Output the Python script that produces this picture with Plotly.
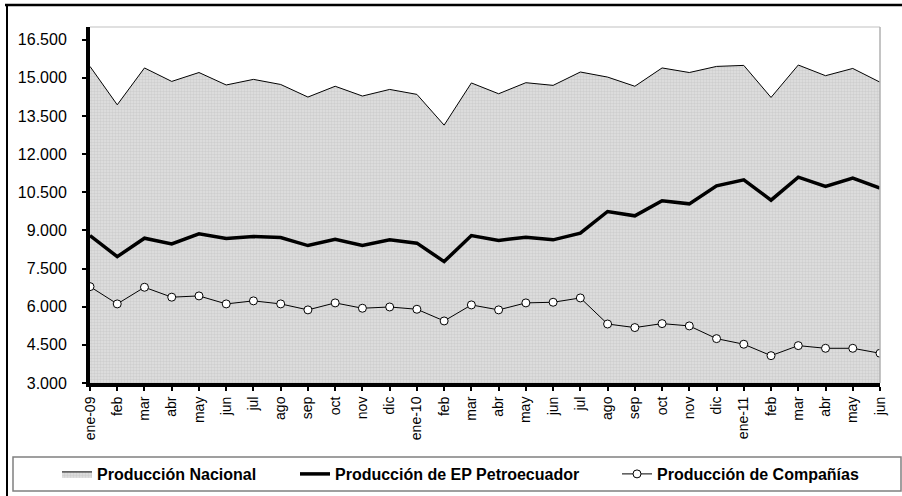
import plotly.graph_objects as go

months = ["ene-09", "feb", "mar", "abr", "may", "jun", "jul", "ago", "sep", "oct", "nov", "dic",
          "ene-10", "feb", "mar", "abr", "may", "jun", "jul", "ago", "sep", "oct", "nov", "dic",
          "ene-11", "feb", "mar", "abr", "may", "jun"]

produccion_nacional = [15450, 13940, 15390, 14860, 15210, 14720, 14940, 14740, 14245, 14670,
                       14285, 14545, 14350, 13140, 14800, 14375, 14810, 14705, 15230, 15030,
                       14670, 15390, 15210, 15450, 15490, 14230, 15505, 15085, 15370, 14830]

produccion_ep = [8800, 7970, 8695, 8470, 8865, 8680, 8760, 8720, 8405, 8655,
                 8405, 8630, 8500, 7775, 8800, 8605, 8735, 8630, 8890, 9745,
                 9575, 10165, 10045, 10755, 10990, 10190, 11095, 10730, 11055, 10665]

produccion_companias = [6790, 6110, 6765, 6375, 6425, 6110, 6230, 6110, 5875, 6150,
                        5940, 5990, 5900, 5440, 6070, 5875, 6150, 6175, 6345, 5320,
                        5180, 5335, 5245, 4745, 4525, 4075, 4470, 4365, 4365, 4170]

y_ticks = [3000, 4500, 6000, 7500, 9000, 10500, 12000, 13500, 15000, 16500]
y_tick_labels = ["3.000", "4.500", "6.000", "7.500", "9.000", "10.500", "12.000", "13.500", "15.000", "16.500"]

x_idx = list(range(len(months)))

W, H = 902, 496
L, R, T, B = 90, 22, 27, 113
PW, PH = W - L - R, H - T - B

def px(x):
    return (x - L) / PW

def py(y):
    return (H - B - y) / PH

FONT = "Liberation Sans, Arial, sans-serif"

fig = go.Figure()

fig.add_trace(go.Scatter(
    x=x_idx, y=produccion_nacional, name="<b>Producción Nacional</b>",
    mode="lines", line=dict(color="black", width=1),
    fill="tozeroy", fillcolor="#dcdcdc",
    fillpattern=dict(shape=".", bgcolor="#e0e0e0", fgcolor="#bcbcbc", size=3, solidity=0.5),
    legend="legend2",
))
fig.add_trace(go.Scatter(
    x=x_idx, y=produccion_ep, name="<b>Producción de EP Petroecuador</b>",
    mode="lines", line=dict(color="black", width=3.5),
    legend="legend3",
))
fig.add_trace(go.Scatter(
    x=x_idx, y=produccion_companias, name="<b>Producción de Compañías</b>",
    mode="lines+markers", line=dict(color="black", width=1),
    marker=dict(symbol="circle", size=8, color="white", line=dict(color="black", width=1)),
    legend="legend4",
))

legend_common = dict(orientation="h", yanchor="middle", xanchor="left",
                     font=dict(family=FONT, size=16, color="black"),
                     bgcolor="rgba(0,0,0,0)", borderwidth=0)
ly = py(474)

shapes = [
    dict(type="line", xref="paper", yref="paper", x0=0, x1=1, y0=1, y1=1,
         line=dict(color="#d6d6d6", width=1.5), layer="above"),
    dict(type="line", xref="paper", yref="paper", x0=1, x1=1, y0=0, y1=1,
         line=dict(color="#b0b0b0", width=1.5), layer="above"),
    dict(type="rect", xref="paper", yref="paper", x0=px(13), x1=px(901), y0=py(491), y1=py(457),
         line=dict(color="#808080", width=1.5), layer="above"),
    dict(type="line", xref="paper", yref="paper", x0=px(5), x1=px(905), y0=py(5), y1=py(5),
         line=dict(color="black", width=2.5), layer="above"),
    dict(type="line", xref="paper", yref="paper", x0=px(7), x1=px(7), y0=py(5), y1=py(500),
         line=dict(color="black", width=2), layer="above"),
]

fig.update_layout(
    width=W, height=H,
    margin=dict(l=L, r=R, t=T, b=B, pad=0, autoexpand=False),
    paper_bgcolor="white", plot_bgcolor="white",
    font=dict(family=FONT, color="black"),
    showlegend=True,
    legend2=dict(x=px(57), y=ly, **legend_common),
    legend3=dict(x=px(295), y=ly, **legend_common),
    legend4=dict(x=px(617), y=ly, **legend_common),
    shapes=shapes,
    xaxis=dict(
        range=[0, len(months) - 1], tickmode="array", tickvals=x_idx, ticktext=months,
        tickangle=-90, showgrid=False, zeroline=False, automargin=False,
        showline=True, linecolor="black", linewidth=4,
        ticks="outside", ticklen=4, tickwidth=2, tickcolor="black",
        tickfont=dict(family=FONT, size=14, color="black"),
        ticklabelstandoff=0,
    ),
    yaxis=dict(
        range=[3000, 17000], tickmode="array", tickvals=y_ticks, ticktext=y_tick_labels,
        showgrid=False, zeroline=False, automargin=False,
        showline=True, linecolor="black", linewidth=4,
        ticks="outside", ticklen=4, tickwidth=2, tickcolor="black",
        tickfont=dict(family=FONT, size=16, color="black"),
        ticklabelstandoff=12,
    ),
)

fig.write_html(
    "out.html",
    config={"displayModeBar": False},
    post_script="document.body.style.margin='0';document.body.style.overflow='hidden';",
)
